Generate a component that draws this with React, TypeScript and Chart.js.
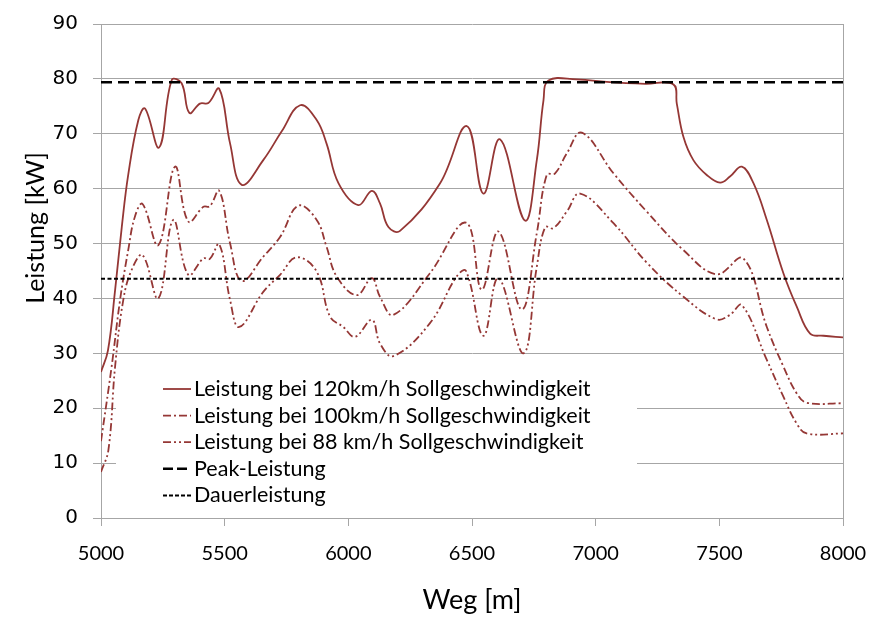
import React, { useEffect, useRef } from 'react';
import { Chart, registerables } from 'chart.js';

Chart.register(...registerables);

// Leistung bei 120 km/h
const weg120 = [5000, 5028, 5057, 5084, 5110, 5151, 5178, 5235, 5286, 5326, 5357, 5400, 5434, 5478, 5522, 5569, 5656, 5730, 5805, 5872, 5912, 5960, 6040, 6095, 6128, 6162, 6209, 6371, 6479, 6546, 6613, 6714, 6762, 6789, 6809, 6923, 7058, 7200, 7314, 7328, 7355, 7395, 7449, 7503, 7543, 7591, 7638, 7692, 7759, 7813, 7867, 7921, 8000];
const leistung120 = [26.6, 30.5, 41.5, 53, 62.5, 72.5, 74.6, 67.5, 79.8, 79.2, 73.8, 75.5, 75.6, 78.2, 68.2, 60.7, 65.2, 70.4, 75.2, 72.5, 68.2, 61, 57, 59.6, 57.3, 53, 52.3, 61, 71.4, 59.1, 69, 54.2, 65.2, 76.1, 79.7, 79.9, 79.4, 79.1, 79.0, 75.5, 69.4, 65.2, 62.5, 61.1, 62.2, 64, 61, 54.3, 44.6, 38.5, 33.6, 33.2, 32.9];

// Leistung bei 100 km/h
const weg100 = [5000, 5043, 5077, 5110, 5137, 5168, 5232, 5299, 5353, 5414, 5440, 5478, 5522, 5569, 5656, 5724, 5798, 5872, 5912, 5953, 6034, 6095, 6128, 6182, 6330, 6476, 6539, 6607, 6701, 6762, 6802, 6836, 6883, 6944, 7072, 7207, 7355, 7489, 7597, 7692, 7759, 7813, 7853, 8000];
const leistung100 = [14, 27.6, 39.7, 48.8, 54.9, 57.2, 49.7, 64, 54, 56.7, 56.8, 59.6, 50, 43.2, 47.6, 51.2, 56.9, 54.3, 49.4, 44, 40.6, 43.7, 40.3, 37, 44.6, 53.8, 41.6, 52.2, 38, 51.9, 62.5, 62.8, 66.4, 70.2, 62.8, 55.8, 48.8, 44.4, 47.3, 34.8, 27.6, 22.7, 21, 20.9];

// Leistung bei 88 km/h
const weg88 = [5000, 5030, 5057, 5090, 5124, 5168, 5232, 5292, 5353, 5414, 5440, 5478, 5522, 5559, 5656, 5724, 5791, 5872, 5926, 5980, 6027, 6095, 6128, 6182, 6330, 6438, 6476, 6546, 6607, 6708, 6762, 6796, 6829, 6883, 6937, 7072, 7207, 7355, 7489, 7543, 7591, 7692, 7759, 7813, 7853, 8000];
const leistung88 = [8.4, 12.4, 27.6, 39.7, 45.2, 47.9, 40, 54.3, 44.3, 47.3, 47.2, 49.9, 39.7, 34.8, 41.2, 44.3, 47.5, 44.9, 36.7, 34.8, 33, 36.1, 31.8, 29.5, 35.5, 44, 45, 33.2, 43.7, 30, 45.8, 53, 52.8, 55.8, 59.1, 53.7, 46.5, 40.3, 36.2, 37, 38.8, 28.8, 22.1, 17.2, 15.4, 15.4];

const wegRange = [5000, 8000];
const peakLeistung = 79.4;
const dauerLeistung = 43.6;

const seriesLabels = [
  'Leistung bei 120km/h Sollgeschwindigkeit',
  'Leistung bei 100km/h Sollgeschwindigkeit',
  'Leistung bei 88 km/h Sollgeschwindigkeit',
  'Peak-Leistung',
  'Dauerleistung',
];
const yTitle = 'Leistung [kW]';
const xTitle = 'Weg [m]';

const RED = '#953735';
const GRID = '#a6a6a6';
const dashes = [[], [8, 3, 2, 3], [8, 3, 2, 3, 2, 3], [11, 6], [4, 2.5]];
const colors = [RED, RED, RED, '#000000', '#000000'];
const widths = [1.8, 1.8, 1.8, 2.5, 2];

const pts = (xs: number[], ys: number[]) => xs.map((x, i) => ({ x, y: ys[i] }));

const overlayPlugin = {
  id: 'overlay',
  afterDatasetsDraw(chart: any) {
    const { ctx, chartArea } = chart;
    ctx.save();
    // right plot border
    ctx.strokeStyle = GRID;
    ctx.lineWidth = 1;
    ctx.beginPath();
    ctx.moveTo(Math.round(chartArea.right) + 0.5, chartArea.top);
    ctx.lineTo(Math.round(chartArea.right) + 0.5, chartArea.bottom);
    ctx.stroke();
    // y axis title
    ctx.save();
    ctx.translate(36, 228);
    ctx.rotate(-Math.PI / 2);
    ctx.font = '25px Lato';
    ctx.fillStyle = '#000';
    ctx.textAlign = 'center';
    ctx.textBaseline = 'middle';
    ctx.fillText(yTitle, 0, 0);
    ctx.restore();
    // legend box
    const bx = 116, by = 367, bw = 521, bh = 142;
    ctx.fillStyle = '#ffffff';
    ctx.fillRect(bx, by, bw, bh);
    ctx.font = '21.5px Lato';
    ctx.textBaseline = 'middle';
    ctx.textAlign = 'left';
    seriesLabels.forEach((lab, i) => {
      const y = 389 + i * 26.6;
      ctx.strokeStyle = colors[i];
      ctx.lineWidth = widths[i];
      ctx.setLineDash(i === 3 ? [10, 4] : i === 4 ? [4, 2] : dashes[i]);
      ctx.beginPath();
      ctx.moveTo(163, y);
      ctx.lineTo(191, y);
      ctx.stroke();
      ctx.setLineDash([]);
      ctx.fillStyle = '#000000';
      ctx.fillText(lab, 194, y);
    });
    ctx.restore();
  },
};

export default function App() {
  const ref = useRef<HTMLCanvasElement | null>(null);
  useEffect(() => {
    if (!ref.current) return;
    const datasets = [
      pts(weg120, leistung120),
      pts(weg100, leistung100),
      pts(weg88, leistung88),
      pts(wegRange, [peakLeistung, peakLeistung]),
      pts(wegRange, [dauerLeistung, dauerLeistung]),
    ].map((data, i) => ({
      label: seriesLabels[i],
      data,
      borderColor: colors[i],
      borderWidth: widths[i],
      borderDash: dashes[i],
      pointRadius: 0,
      tension: i < 3 ? 0.4 : 0,
      fill: false,
      order: 5 - i,
    }));
    const chart = new Chart(ref.current, {
      type: 'line',
      data: { datasets },
      plugins: [overlayPlugin],
      options: {
        animation: false,
        responsive: true,
        maintainAspectRatio: false,
        layout: { padding: { top: 24, right: 32, left: 0, bottom: 0 } },
        plugins: { legend: { display: false }, tooltip: { enabled: false } },
        scales: {
          x: {
            type: 'linear',
            min: 5000,
            max: 8000,
            ticks: { stepSize: 500, padding: 16, color: '#000', font: { family: 'Lato', size: 20 }, callback: (v: any) => String(v) },
            grid: { drawOnChartArea: false, drawTicks: true, tickLength: 8, color: GRID },
            border: { display: true, color: GRID },
            title: { display: true, text: xTitle, color: '#000', font: { family: 'Lato', size: 27 }, padding: { top: 0, bottom: 3 } },
            afterFit: (s: any) => { s.height = 101; s.paddingRight = 0; s.paddingLeft = 0; },
          },
          y: {
            min: 0,
            max: 90,
            ticks: { stepSize: 10, padding: 15, color: '#000', font: { family: 'DejaVu Sans', size: 20 } },
            grid: { color: GRID, tickLength: 8, drawTicks: true },
            border: { display: true, color: GRID },
            title: { display: false },
            afterFit: (s: any) => { s.width = 101; s.paddingTop = 0; s.paddingBottom = 0; },
          },
        },
      },
    });
    return () => chart.destroy();
  }, []);
  return (
    <div style={{ position: 'fixed', left: 0, top: 0, width: 875, height: 619, background: '#fff' }}>
      <canvas ref={ref} />
    </div>
  );
}
